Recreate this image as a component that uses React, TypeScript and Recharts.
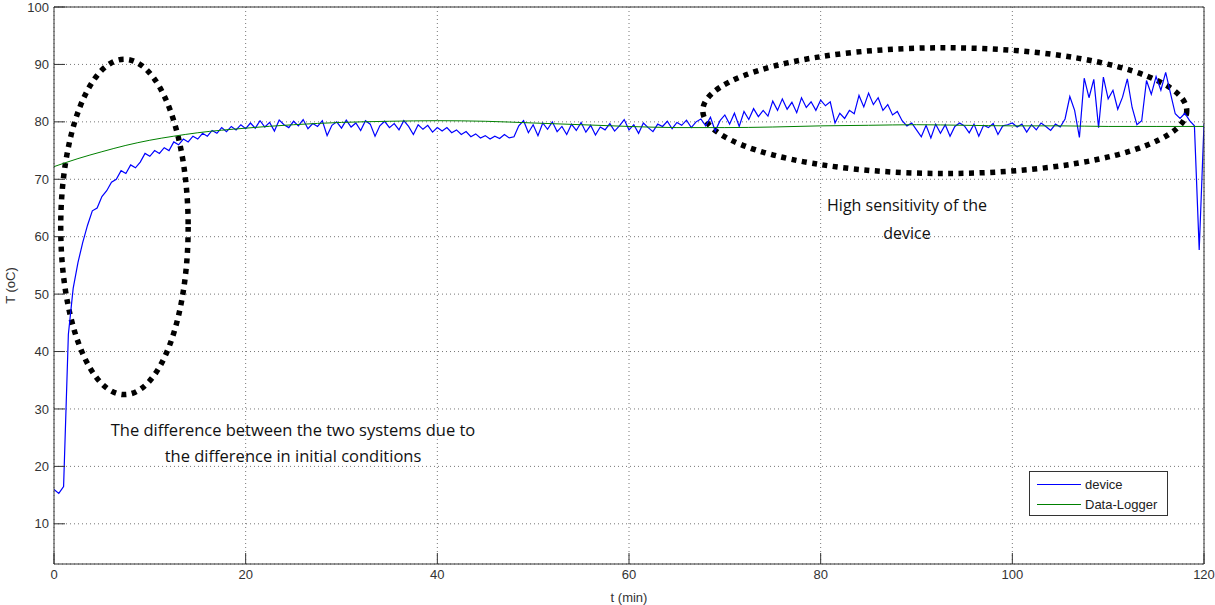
import {
  LineChart,
  Line,
  XAxis,
  YAxis,
  CartesianGrid,
  ReferenceArea,
  Legend,
} from 'recharts'

// device readings, one every half minute from t = 0 to t = 120 min
const SAMPLE_STEP = 0.5

const deviceTemp = [
  // 0 - 20 min: warm-up
  16.0, 15.3, 16.5, 43.0, 51.0, 55.5, 59.0, 62.0, 64.5, 65.0,
  67.0, 68.0, 69.5, 70.0, 71.5, 71.0, 72.5, 72.0, 73.0, 74.5,
  74.0, 75.0, 74.5, 75.5, 75.0, 76.5, 76.0, 77.0, 76.5, 77.5,
  77.0, 78.0, 77.5, 78.5, 78.0, 79.0, 78.3, 79.2, 78.6, 79.5,
  78.8,
  // 20.5 - 40 min
  79.8, 78.9, 80.2, 79.1, 79.9, 78.4, 80.3, 79.5, 79.0, 80.1,
  79.3, 80.4, 78.8, 79.7, 79.2, 80.2, 77.6, 79.4, 80.0, 78.9,
  80.3, 79.1, 79.8, 78.5, 80.2, 79.6, 77.5, 79.3, 80.1, 79.0,
  79.7, 78.6, 80.2, 79.2, 77.8, 79.5, 78.7, 79.4, 78.2, 79.0,
  // 40.5 - 48 min
  78.4, 79.0, 78.1, 78.6, 77.8, 78.3, 77.4, 77.9, 77.2, 77.6,
  77.0, 77.5, 77.1, 77.8, 77.2, 77.4,
  // 48.5 - 67 min
  79.3, 80.2, 78.1, 79.5, 77.6, 79.8, 78.7, 80.0, 78.3, 79.2,
  77.8, 79.6, 78.5, 79.9, 78.2, 79.4, 77.7, 79.1, 78.6, 79.7,
  78.4, 79.3, 80.4, 78.6, 79.5, 78.0, 79.8, 79.0, 78.3, 79.6,
  79.2, 80.1, 78.8, 79.9, 79.4, 80.3, 79.0, 80.0,
  // 67.5 - 94.5 min
  80.5, 79.3, 80.8, 78.4, 80.2, 81.2, 79.6, 81.5, 79.2, 81.8,
  80.4, 82.3, 80.9, 82.0, 81.0, 83.6, 82.0, 84.0, 82.2, 83.4,
  81.6, 84.2, 82.5, 83.5, 82.0, 83.8, 82.8, 83.5, 79.8, 81.5,
  80.6, 82.0, 81.4, 84.6, 82.6, 85.0, 83.0, 84.2, 82.0, 83.0,
  81.2, 81.8, 80.2, 79.3, 79.8, 78.6, 77.4, 79.4, 77.2, 79.6,
  78.0, 79.5, 77.5, 79.2, 79.8,
  // 95 - 105 min
  79.3, 78.1, 79.6, 77.5, 79.4, 79.0, 79.7, 77.8, 79.3, 79.5,
  79.8, 79.1, 79.6, 78.2, 79.5, 78.6, 79.8, 79.2, 78.5, 79.6,
  79.1,
  // 105.5 - 120 min
  80.5, 84.4, 82.0, 77.3, 87.6, 84.2, 87.4, 79.0, 87.8, 84.0,
  85.5, 82.2, 84.3, 87.5, 82.5, 79.5, 80.2, 87.2, 84.8, 87.9,
  85.5, 88.6, 85.0, 81.4, 80.6, 81.5, 80.2, 79.3, 57.7, 79.6,
]

const loggerTime = [
  0, 2.5, 5, 7.5, 10, 12.5, 15, 20, 25, 30, 35, 40, 45, 50,
  55, 60, 65, 70, 75, 80, 85, 90, 95, 100, 105, 110, 115, 120,
]
const loggerTemp = [
  72.2, 73.6, 74.8, 75.9, 76.8, 77.5, 78.1, 78.9, 79.5, 79.9, 80.1, 80.2, 80.1, 79.8,
  79.5, 79.2, 79.0, 79.0, 79.1, 79.3, 79.4, 79.5, 79.4, 79.3, 79.3, 79.2, 79.2, 79.2,
]

const seriesNames = ['device', 'Data-Logger']
const xTicks = [0, 20, 40, 60, 80, 100, 120]
const yTicks = [10, 20, 30, 40, 50, 60, 70, 80, 90, 100]

// dotted ellipses drawn over the plot (data units)
const ellipses = [
  { x1: 0.7, x2: 14.0, y1: 32.5, y2: 90.9 },
  { x1: 67.7, x2: 118.2, y1: 71.0, y2: 92.9 },
]

const deviceData = deviceTemp.map((v, i) => ({ t: i * SAMPLE_STEP, v }))
const loggerData = loggerTime.map((t, i) => ({ t, v: loggerTemp[i] }))

const AXIS = '#333'
const tickStyle = { fill: '#333', fontSize: 13 }

const DottedEllipse = (props: any) => {
  const { x, y, width, height } = props
  return (
    <ellipse
      cx={x + width / 2}
      cy={y + height / 2}
      rx={Math.abs(width) / 2}
      ry={Math.abs(height) / 2}
      fill="none"
      stroke="#000"
      strokeWidth={5.5}
      strokeDasharray="5 5.5"
    />
  )
}

const LegendBox = ({ payload }: any) => {
  // keep the plotting order (device first), not alphabetical
  const items = [...(payload || [])].sort(
    (a: any, b: any) => seriesNames.indexOf(a.value) - seriesNames.indexOf(b.value)
  )
  return (
    <div
      style={{
        border: '1px solid #333',
        background: '#fff',
        height: 45,
        boxSizing: 'border-box',
        paddingTop: 2,
        fontSize: 13,
        color: '#222',
      }}
    >
      {items.map((p: any) => (
        <div key={p.value} style={{ display: 'flex', alignItems: 'center', height: 20 }}>
          <div style={{ width: 44, borderTop: `1px solid ${p.color}`, marginLeft: 7, marginRight: 4 }} />
          <span>{p.value}</span>
        </div>
      ))}
    </div>
  )
}

export default function App() {
  return (
    <div
      style={{
        position: 'absolute',
        left: 0,
        top: 0,
        width: 1215,
        height: 605,
        background: '#fff',
        fontFamily: '"Liberation Sans", Arial, sans-serif',
      }}
    >
      <LineChart width={1215} height={605} margin={{ top: 6, right: 10, bottom: 0, left: 0 }}>
        <CartesianGrid stroke="#777" strokeDasharray="1 3" />
        <XAxis
          dataKey="t"
          type="number"
          domain={[0, 120]}
          ticks={xTicks}
          interval={0}
          allowDataOverflow
          height={41}
          stroke={AXIS}
          tickSize={-11}
          tickMargin={17}
          tick={tickStyle}
          label={{ value: 't (min)', position: 'insideBottom', offset: 3, fill: '#333', fontSize: 13 }}
        />
        <XAxis
          xAxisId="top"
          orientation="top"
          type="number"
          domain={[0, 120]}
          ticks={xTicks}
          height={1}
          stroke={AXIS}
          tickSize={-11}
          tickFormatter={() => ''}
        />
        <YAxis
          type="number"
          domain={[3, 100]}
          ticks={yTicks}
          interval={0}
          allowDataOverflow
          width={54}
          stroke={AXIS}
          tickSize={-11}
          tickMargin={16}
          tick={tickStyle}
          label={{
            content: ({ viewBox }: any) => {
              const cx = viewBox.x + 10
              const cy = viewBox.y + viewBox.height / 2
              return (
                <text
                  x={cx}
                  y={cy}
                  transform={`rotate(-90 ${cx} ${cy})`}
                  textAnchor="middle"
                  dominantBaseline="central"
                  fontSize={13}
                  fill="#333"
                >
                  T (oC)
                </text>
              )
            },
          }}
        />
        <YAxis
          yAxisId="right"
          orientation="right"
          type="number"
          domain={[3, 100]}
          ticks={yTicks}
          width={1}
          stroke={AXIS}
          tickSize={-11}
          tickFormatter={() => ''}
        />
        <Line
          data={deviceData}
          dataKey="v"
          name="device"
          type="linear"
          stroke="#0000ff"
          strokeWidth={1.2}
          dot={false}
          isAnimationActive={false}
        />
        <Line
          data={loggerData}
          dataKey="v"
          name="Data-Logger"
          type="monotone"
          stroke="#008000"
          strokeWidth={1}
          dot={false}
          isAnimationActive={false}
        />
        {ellipses.map((e, i) => (
          <ReferenceArea
            key={i}
            x1={e.x1}
            x2={e.x2}
            y1={e.y1}
            y2={e.y2}
            ifOverflow="visible"
            shape={<DottedEllipse />}
          />
        ))}
        <Legend
          layout="vertical"
          align="center"
          verticalAlign="middle"
          wrapperStyle={{ left: 1029, top: 471, width: 139, height: 45 }}
          content={<LegendBox />}
        />
      </LineChart>

      <div
        style={{
          position: 'absolute',
          left: 43,
          top: 417,
          width: 500,
          textAlign: 'center',
          lineHeight: '26px',
          fontSize: 16.5,
          fontFamily: '"Open Sans", sans-serif',
          color: '#111',
        }}
      >
        The difference between the two systems due to
        <br />
        the difference in initial conditions
      </div>
      <div
        style={{
          position: 'absolute',
          left: 757,
          top: 191,
          width: 300,
          textAlign: 'center',
          lineHeight: '28px',
          fontSize: 16,
          fontFamily: '"Open Sans", sans-serif',
          color: '#111',
        }}
      >
        High sensitivity of the
        <br />
        device
      </div>
    </div>
  )
}
